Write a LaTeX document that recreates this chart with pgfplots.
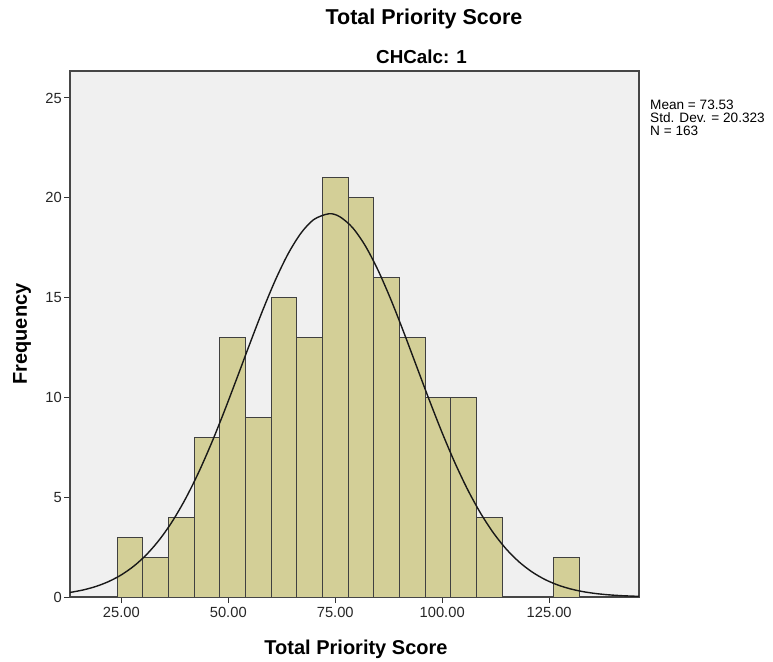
\documentclass[border=0pt]{standalone}
\usepackage{pgfplots}
\pgfplotsset{compat=1.18}
\usepackage{fontspec}
\setmainfont{Liberation Sans}
\definecolor{barfill}{RGB}{211,207,151}
\definecolor{bgc}{RGB}{240,240,240}
\definecolor{framec}{RGB}{70,70,70}
\begin{document}
\begin{tikzpicture}
\path[use as bounding box] (0,0) rectangle (773bp,662bp);
\begin{axis}[
  at={(70bp,65bp)}, anchor=south west,
  scale only axis, width=569bp, height=526bp,
  xmin=13, xmax=146, ymin=0, ymax=26.35,
  axis background/.style={fill=bgc},
  axis line style={draw=framec, line width=1.3bp},
  xtick={25,50,75,100,125},
  xticklabels={25.00,50.00,75.00,100.00,125.00},
  ytick={0,5,10,15,20,25},
  tick pos=left, tick align=outside, major tick length=6bp,
  tick style={black!80, line width=1bp},
  ticklabel style={font=\fontsize{14.7bp}{16bp}\selectfont, text=black!85},
  /pgf/number format/assume math mode=true,
  xticklabel style={inner sep=2bp, yshift=-2bp},
  yticklabel style={inner sep=2bp},
]
\addplot[ybar interval, fill=barfill, draw=black!75, line width=1bp] coordinates {
(24,3)(30,2)(36,4)(42,8)(48,13)(54,9)(60,15)(66,13)(72,21)(78,20)(84,16)(90,13)(96,10)(102,10)(108,4)(114,0)(120,0)(126,2)(132,2)};
\addplot[smooth, black!90, line width=1.4bp] coordinates {
(13,0.2276)(16,0.3493)(19,0.5246)(22,0.7712)(25,1.1094)(28,1.5611)(31,2.1496)(34,2.8961)(37,3.8168)(40,4.9226)(43,6.2119)(46,7.6696)(49,9.2665)(52,10.954)(55,12.669)(58,14.337)(61,15.875)(64,17.199)(67,18.232)(70,18.911)(73.53,19.198)(76,19.057)(79,18.515)(82,17.601)(85,16.371)(88,14.900)(91,13.268)(94,11.560)(97,9.855)(100,8.220)(103,6.709)(106,5.357)(109,4.187)(112,3.201)(115,2.394)(118,1.752)(121,1.2546)(124,0.8790)(127,0.6026)(130,0.4044)(133,0.2655)(136,0.1705)(139,0.1071)(142,0.0658)(145,0.0396)(146,0.0333)};
\end{axis}
\node[font=\bfseries\fontsize{21.5bp}{24bp}\selectfont] at (424bp,643bp) {Total Priority Score};
\node[font=\bfseries\fontsize{18.8bp}{21bp}\selectfont] at (421.5bp,605bp) {CHCalc: 1};
\node[font=\bfseries\fontsize{20bp}{22bp}\selectfont] at (356bp,13bp) {Total Priority Score};
\node[font=\bfseries\fontsize{20bp}{22bp}\selectfont, rotate=90] at (22bp,328bp) {Frequency};
\node[anchor=base west, inner sep=0pt, font=\fontsize{13.6bp}{15bp}\selectfont] at (650bp,552bp) {Mean = 73.53};
\node[anchor=base west, inner sep=0pt, font=\fontsize{13.6bp}{15bp}\selectfont] at (650bp,539bp) {Std. Dev. = 20.323};
\node[anchor=base west, inner sep=0pt, font=\fontsize{13.6bp}{15bp}\selectfont] at (650bp,526bp) {N = 163};
\end{tikzpicture}
\end{document}
